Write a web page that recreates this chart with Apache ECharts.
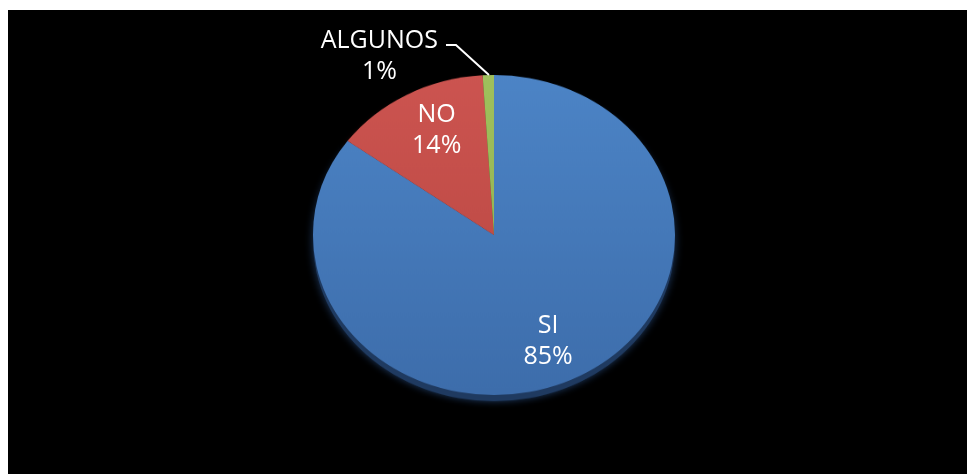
<!DOCTYPE html>
<html><head><meta charset="utf-8">
<script src="https://cdn.jsdelivr.net/npm/echarts@6/dist/echarts.min.js"></script>
<style>
html,body{margin:0;padding:0;background:#fff;width:967px;height:474px;overflow:hidden}
#frame{position:absolute;left:8px;top:10px;width:959px;height:464px;background:#000;overflow:hidden}
#shapes{position:absolute;left:0;top:0;width:959px;height:464px;transform-origin:486px 225px;transform:scaleY(0.884)}
#labels{position:absolute;left:0;top:0;width:959px;height:464px}
</style></head>
<body><div id="frame"><div id="shapes"></div><div id="labels"></div></div>
<script>
const categories = ['SI', 'NO', 'ALGUNOS'];
const values = [85, 14, 1];
const topColors = ['#4c84c6', '#cc5450', '#9fc05c'];
const bottomColors = ['#3d6dab', '#b6453f', '#8dab4f'];
const sideColors = ['#1f3a60', '#5a2120', '#465a28'];

const CENTER = [486, 225];
const R = 181;

function grad(i) {
  return {
    type: 'linear', x: 0, y: CENTER[1] - R, x2: 0, y2: CENTER[1] + R, global: true,
    colorStops: [{offset: 0, color: topColors[i]}, {offset: 1, color: bottomColors[i]}]
  };
}

const shapes = echarts.init(document.getElementById('shapes'), null, {renderer: 'canvas'});
shapes.setOption({
  animation: false,
  series: [
    {
      type: 'pie', silent: true, center: [CENTER[0], CENTER[1] + 7], radius: R,
      startAngle: 90, clockwise: true, label: {show: false}, labelLine: {show: false},
      data: categories.map((c, i) => ({name: c, value: values[i],
        itemStyle: {color: sideColors[i], shadowBlur: 8, shadowColor: sideColors[i]}}))
    },
    {
      type: 'pie', silent: true, center: CENTER, radius: R,
      startAngle: 90, clockwise: true, label: {show: false}, labelLine: {show: false},
      data: categories.map((c, i) => ({name: c, value: values[i],
        itemStyle: {color: grad(i), borderWidth: 0}}))
    }
  ]
});

const fontBase = {color: '#ffffff', fontFamily: 'Open Sans', fontSize: 25, lineHeight: 31};
const labels = echarts.init(document.getElementById('labels'), null, {renderer: 'canvas'});
labels.setOption({
  animation: false,
  series: [
    {
      type: 'pie', silent: true, center: CENTER, radius: 232,
      startAngle: 90, clockwise: true,
      label: Object.assign({show: true, position: 'inside', formatter: '{b}\n{d}%'}, fontBase),
      labelLine: {show: false},
      itemStyle: {color: 'rgba(0,0,0,0)'},
      data: categories.map((c, i) => ({name: c, value: values[i],
        label: {show: i < 2}}))
    },
    {
      type: 'pie', silent: true, center: CENTER, radius: Math.round(R * 0.884),
      startAngle: 90, clockwise: true,
      label: Object.assign({show: true, position: 'outside', formatter: '{b}\n{d}%', align: 'center'}, fontBase),
      labelLine: {show: true, length: 20, length2: 10, lineStyle: {color: '#ffffff', width: 2}},
      itemStyle: {color: 'rgba(0,0,0,0)'},
      data: categories.map((c, i) => ({name: c, value: values[i],
        label: {show: i === 2}, labelLine: {show: i === 2}})),
      labelLayout: function (p) {
        if (p.dataIndex !== 2 || !p.labelLinePoints) return {};
        const s = p.labelLinePoints[0];
        const p1 = [s[0] - 33, s[1] - 30];
        const p2 = [p1[0] - 10, p1[1]];
        return {
          x: p2[0] - 8 - p.labelRect.width / 2,
          y: p2[1] + 11,
          align: 'center', verticalAlign: 'middle',
          labelLinePoints: [s, p1, p2]
        };
      }
    }
  ]
});
</script>
</body></html>
